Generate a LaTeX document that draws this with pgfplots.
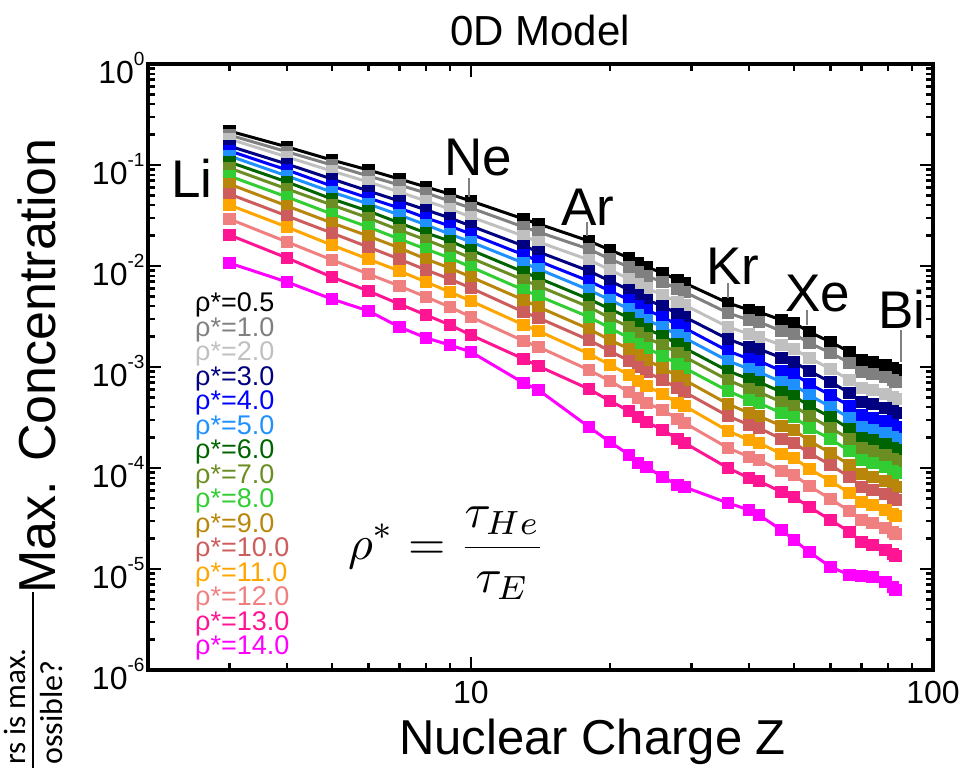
\documentclass[border=0pt]{standalone}
\usepackage[no-math]{fontspec}
\setmainfont{Liberation Sans}
\newfontfamily\carl{Carlito}
\usepackage{pgfplots}
\usepackage{pgfplotstable}
\pgfplotsset{compat=1.18}
\definecolor{c1}{RGB}{0,0,0}
\definecolor{c2}{RGB}{128,128,128}
\definecolor{c3}{RGB}{192,192,192}
\definecolor{c4}{RGB}{0,0,128}
\definecolor{c5}{RGB}{0,0,255}
\definecolor{c6}{RGB}{30,144,255}
\definecolor{c7}{RGB}{0,100,0}
\definecolor{c8}{RGB}{107,142,35}
\definecolor{c9}{RGB}{50,205,50}
\definecolor{c10}{RGB}{184,134,11}
\definecolor{c11}{RGB}{205,92,92}
\definecolor{c12}{RGB}{255,165,0}
\definecolor{c13}{RGB}{240,128,128}
\definecolor{c14}{RGB}{255,20,147}
\definecolor{c15}{RGB}{255,0,255}
\newcommand{\ee}[1]{\raisebox{0.55em}{\fontsize{19}{19}\selectfont #1}}
\pgfplotstableread{
Z s1 s2 s3 s4 s5 s6 s7 s8 s9 s10 s11 s12 s13 s14 s15
3 2.17e-1 1.98e-1 1.81e-1 1.54e-1 1.38e-1 1.23e-1 1.07e-1 9.34e-2 7.78e-2 6.48e-2 5.16e-2 4.02e-2 2.92e-2 2.03e-2 1.07e-2
4 1.51e-1 1.35e-1 1.20e-1 1.02e-1 8.92e-2 7.78e-2 6.79e-2 5.79e-2 4.82e-2 3.93e-2 3.13e-2 2.43e-2 1.73e-2 1.20e-2 6.94e-3
5 1.12e-1 1.00e-1 8.72e-2 7.27e-2 6.19e-2 5.40e-2 4.61e-2 4.02e-2 3.27e-2 2.67e-2 2.12e-2 1.61e-2 1.15e-2 7.78e-3 4.71e-3
6 8.92e-2 7.78e-2 6.79e-2 5.53e-2 4.71e-2 4.11e-2 3.50e-2 2.99e-2 2.43e-2 1.98e-2 1.54e-2 1.17e-2 8.33e-3 5.65e-3 3.59e-3
7 7.27e-2 6.34e-2 5.40e-2 4.40e-2 3.75e-2 3.20e-2 2.67e-2 2.27e-2 1.85e-2 1.51e-2 1.17e-2 8.92e-3 6.34e-3 4.20e-3 2.49e-3
8 6.05e-2 5.28e-2 4.40e-2 3.59e-2 2.99e-2 2.55e-2 2.12e-2 1.81e-2 1.47e-2 1.17e-2 9.13e-3 6.94e-3 4.93e-3 3.27e-3 1.94e-3
9 5.16e-2 4.40e-2 3.67e-2 2.99e-2 2.49e-2 2.07e-2 1.77e-2 1.47e-2 1.20e-2 9.55e-3 7.43e-3 5.53e-3 3.93e-3 2.61e-3 1.65e-3
10 4.40e-2 3.75e-2 3.06e-2 2.49e-2 2.07e-2 1.73e-2 1.44e-2 1.20e-2 9.77e-3 7.78e-3 6.05e-3 4.50e-3 3.13e-3 2.07e-3 1.41e-3
13 2.92e-2 2.43e-2 1.98e-2 1.58e-2 1.29e-2 1.07e-2 8.72e-3 7.27e-3 5.79e-3 4.61e-3 3.50e-3 2.61e-3 1.81e-3 1.20e-3 6.94e-4
14 2.61e-2 2.17e-2 1.73e-2 1.38e-2 1.12e-2 9.34e-3 7.60e-3 6.34e-3 5.05e-3 3.93e-3 3.06e-3 2.27e-3 1.58e-3 1.02e-3 5.92e-4
18 1.77e-2 1.47e-2 1.15e-2 8.92e-3 7.10e-3 5.79e-3 4.71e-3 3.93e-3 3.13e-3 2.38e-3 1.85e-3 1.35e-3 9.34e-4 6.05e-4 2.55e-4
20 1.44e-2 1.17e-2 9.13e-3 7.10e-3 5.65e-3 4.61e-3 3.75e-3 3.06e-3 2.43e-3 1.85e-3 1.44e-3 1.05e-3 7.27e-4 4.61e-4 1.81e-4
22 1.20e-2 9.77e-3 7.43e-3 5.79e-3 4.61e-3 3.75e-3 3.06e-3 2.49e-3 1.94e-3 1.51e-3 1.15e-3 8.33e-4 5.65e-4 3.67e-4 1.35e-4
23 1.07e-2 8.72e-3 6.63e-3 5.16e-3 4.02e-3 3.27e-3 2.67e-3 2.17e-3 1.69e-3 1.32e-3 1.00e-3 7.27e-4 4.93e-4 3.20e-4 1.12e-4
24 9.77e-3 7.96e-3 6.05e-3 4.61e-3 3.67e-3 2.92e-3 2.38e-3 1.94e-3 1.54e-3 1.17e-3 8.92e-4 6.48e-4 4.40e-4 2.86e-4 1.02e-4
26 8.52e-3 6.94e-3 5.16e-3 4.02e-3 3.13e-3 2.49e-3 2.03e-3 1.65e-3 1.29e-3 9.77e-4 7.43e-4 5.40e-4 3.75e-4 2.38e-4 8.14e-5
28 7.27e-3 5.92e-3 4.40e-3 3.35e-3 2.61e-3 2.07e-3 1.69e-3 1.38e-3 1.07e-3 8.14e-4 6.19e-4 4.40e-4 3.06e-4 1.94e-4 6.79e-5
29 6.79e-3 5.53e-3 4.11e-3 3.13e-3 2.43e-3 1.94e-3 1.54e-3 1.26e-3 9.77e-4 7.43e-4 5.65e-4 4.11e-4 2.79e-4 1.77e-4 6.48e-5
36 4.30e-3 3.43e-3 2.49e-3 1.89e-3 1.44e-3 1.15e-3 9.13e-4 7.43e-4 5.79e-4 4.30e-4 3.27e-4 2.33e-4 1.58e-4 1.00e-4 4.50e-5
40 3.67e-3 2.92e-3 2.12e-3 1.58e-3 1.20e-3 9.55e-4 7.60e-4 6.05e-4 4.71e-4 3.50e-4 2.67e-4 1.89e-4 1.29e-4 7.96e-5 3.84e-5
42 3.50e-3 2.79e-3 1.98e-3 1.51e-3 1.15e-3 8.92e-4 7.10e-4 5.65e-4 4.40e-4 3.27e-4 2.49e-4 1.77e-4 1.20e-4 7.43e-5 3.43e-5
47 2.92e-3 2.27e-3 1.65e-3 1.23e-3 9.13e-4 7.10e-4 5.65e-4 4.50e-4 3.50e-4 2.61e-4 1.94e-4 1.38e-4 9.34e-5 5.79e-5 2.43e-5
50 2.73e-3 2.12e-3 1.51e-3 1.12e-3 8.52e-4 6.63e-4 5.16e-4 4.11e-4 3.20e-4 2.38e-4 1.77e-4 1.26e-4 8.52e-5 5.16e-5 1.94e-5
54 2.22e-3 1.73e-3 1.23e-3 9.13e-4 6.79e-4 5.28e-4 4.11e-4 3.27e-4 2.49e-4 1.85e-4 1.41e-4 9.77e-5 6.63e-5 4.11e-5 1.47e-5
60 1.77e-3 1.38e-3 9.55e-4 7.10e-4 5.28e-4 4.02e-4 3.20e-4 2.49e-4 1.94e-4 1.41e-4 1.07e-4 7.43e-5 4.93e-5 3.06e-5 1.05e-5
66 1.41e-3 1.10e-3 7.43e-4 5.53e-4 4.11e-4 3.13e-4 2.43e-4 1.94e-4 1.47e-4 1.07e-4 8.14e-5 5.65e-5 3.75e-5 2.33e-5 8.72e-6
70 1.17e-3 8.92e-4 6.19e-4 4.50e-4 3.35e-4 2.55e-4 1.98e-4 1.58e-4 1.20e-4 8.72e-5 6.48e-5 4.61e-5 3.06e-5 1.85e-5 8.52e-6
74 1.12e-3 8.52e-4 5.92e-4 4.30e-4 3.13e-4 2.38e-4 1.89e-4 1.47e-4 1.12e-4 8.14e-5 6.05e-5 4.30e-5 2.86e-5 1.73e-5 8.33e-6
79 1.05e-3 7.96e-4 5.40e-4 3.93e-4 2.92e-4 2.22e-4 1.73e-4 1.35e-4 1.02e-4 7.43e-5 5.53e-5 3.84e-5 2.55e-5 1.54e-5 7.43e-6
82 9.77e-4 7.43e-4 5.05e-4 3.67e-4 2.67e-4 2.03e-4 1.58e-4 1.23e-4 9.34e-5 6.79e-5 5.05e-5 3.50e-5 2.33e-5 1.41e-5 6.63e-6
83 9.34e-4 7.10e-4 4.82e-4 3.50e-4 2.55e-4 1.94e-4 1.51e-4 1.17e-4 8.92e-5 6.48e-5 4.82e-5 3.35e-5 2.22e-5 1.35e-5 6.19e-6
}\data
\begin{document}
\begin{tikzpicture}
\useasboundingbox (0pt,0pt) rectangle (961pt,768pt);
\begin{axis}[
  at={(148pt,98pt)}, anchor=south west,
  width=785pt, height=606pt, scale only axis,
  xmode=log, ymode=log, log basis x=10, log basis y=10,
  xmin=2, xmax=100, ymin=1e-6, ymax=1,
  axis line style={line width=4pt, line cap=rect},
  tick align=inside,
  tick style={line width=2.5pt, black},
  major tick length=13pt, minor tick length=7pt,
  xtick={10,100}, xticklabels={10,100},
  minor xtick={2,3,4,5,6,7,8,9,20,30,40,50,60,70,80,90},
  ytick={1e-6,1e-5,1e-4,1e-3,1e-2,1e-1,1},
  yticklabels={10\ee{-6},10\ee{-5},10\ee{-4},10\ee{-3},10\ee{-2},10\ee{-1},10\ee{0}},
  minor ytick={2e-6,3e-6,4e-6,5e-6,6e-6,7e-6,8e-6,9e-6,
               2e-5,3e-5,4e-5,5e-5,6e-5,7e-5,8e-5,9e-5,
               2e-4,3e-4,4e-4,5e-4,6e-4,7e-4,8e-4,9e-4,
               2e-3,3e-3,4e-3,5e-3,6e-3,7e-3,8e-3,9e-3,
               2e-2,3e-2,4e-2,5e-2,6e-2,7e-2,8e-2,9e-2,
               2e-1,3e-1,4e-1,5e-1,6e-1,7e-1,8e-1,9e-1},
  ticklabel style={font=\fontsize{32}{36}\selectfont},
  xticklabel style={yshift=-8pt},
  yticklabel style={yshift=-4pt},
]
\pgfplotsinvokeforeach{1,...,15}{
  \addplot[color=c#1, line width=3pt, mark=square*, mark size=5.8pt,
           mark options={solid, line width=1pt}]
    table[x=Z, y=s#1] {\data};
}
\end{axis}
% title and axis labels
\node[font=\fontsize{42}{48}\selectfont, inner sep=0] at (540pt,738pt) {0D Model};
\node[font=\fontsize{49}{56}\selectfont, inner sep=0, anchor=base west] at (399pt,13pt) {Nuclear Charge Z};
\node[font=\fontsize{52}{60}\selectfont, inner sep=0, anchor=base, rotate=90] at (55pt,402pt) {Max. Concentration};
% element labels
\begin{scope}[every node/.style={font=\fontsize{53}{60}\selectfont, inner sep=0}]
\node at (192pt,590pt) {Li};
\node at (478pt,610pt) {Ne};
\node at (588pt,561pt) {Ar};
\node at (733pt,502pt) {Kr};
\node at (818pt,474pt) {Xe};
\node at (902pt,459pt) {Bi};
\end{scope}
\draw[gray, line width=1.2pt] (469pt,590pt) -- (469pt,571pt);
\draw[gray, line width=1.2pt] (587pt,546pt) -- (587pt,532pt);
\draw[gray, line width=1.2pt] (728pt,485pt) -- (728pt,470pt);
\draw[gray, line width=1.2pt] (807pt,458pt) -- (807pt,443pt);
\draw[gray, line width=1.2pt] (901pt,438pt) -- (901pt,406pt);
% legend text
\foreach \i/\lab in {1/0.5,2/1.0,3/2.0,4/3.0,5/4.0,6/5.0,7/6.0,8/7.0,9/8.0,10/9.0,11/10.0,12/11.0,13/12.0,14/13.0,15/14.0}{
  \pgfmathsetmacro\yy{463-24.5*(\i-1)}
  \node[text=c\i, anchor=west, inner sep=0, font=\fontsize{27}{28}\selectfont] at (195pt,\yy pt) {ρ*=\lab};
}
% formula
\node[inner sep=0, scale=4.8] at (447pt,215pt) {$\displaystyle \rho^{*} = \frac{\tau_{He}}{\tau_{E}}$};
% remnants at left edge
\node[rotate=90, anchor=base west, inner sep=0, font=\carl\fontsize{31}{36}\selectfont] at (25pt,3pt) {rs is max.};
\node[rotate=90, anchor=base west, inner sep=0, font=\carl\fontsize{32}{36}\selectfont] at (62pt,3pt) {ossible?};
\draw[line width=2pt] (33pt,0pt) -- (33pt,176pt);
\end{tikzpicture}
\end{document}
